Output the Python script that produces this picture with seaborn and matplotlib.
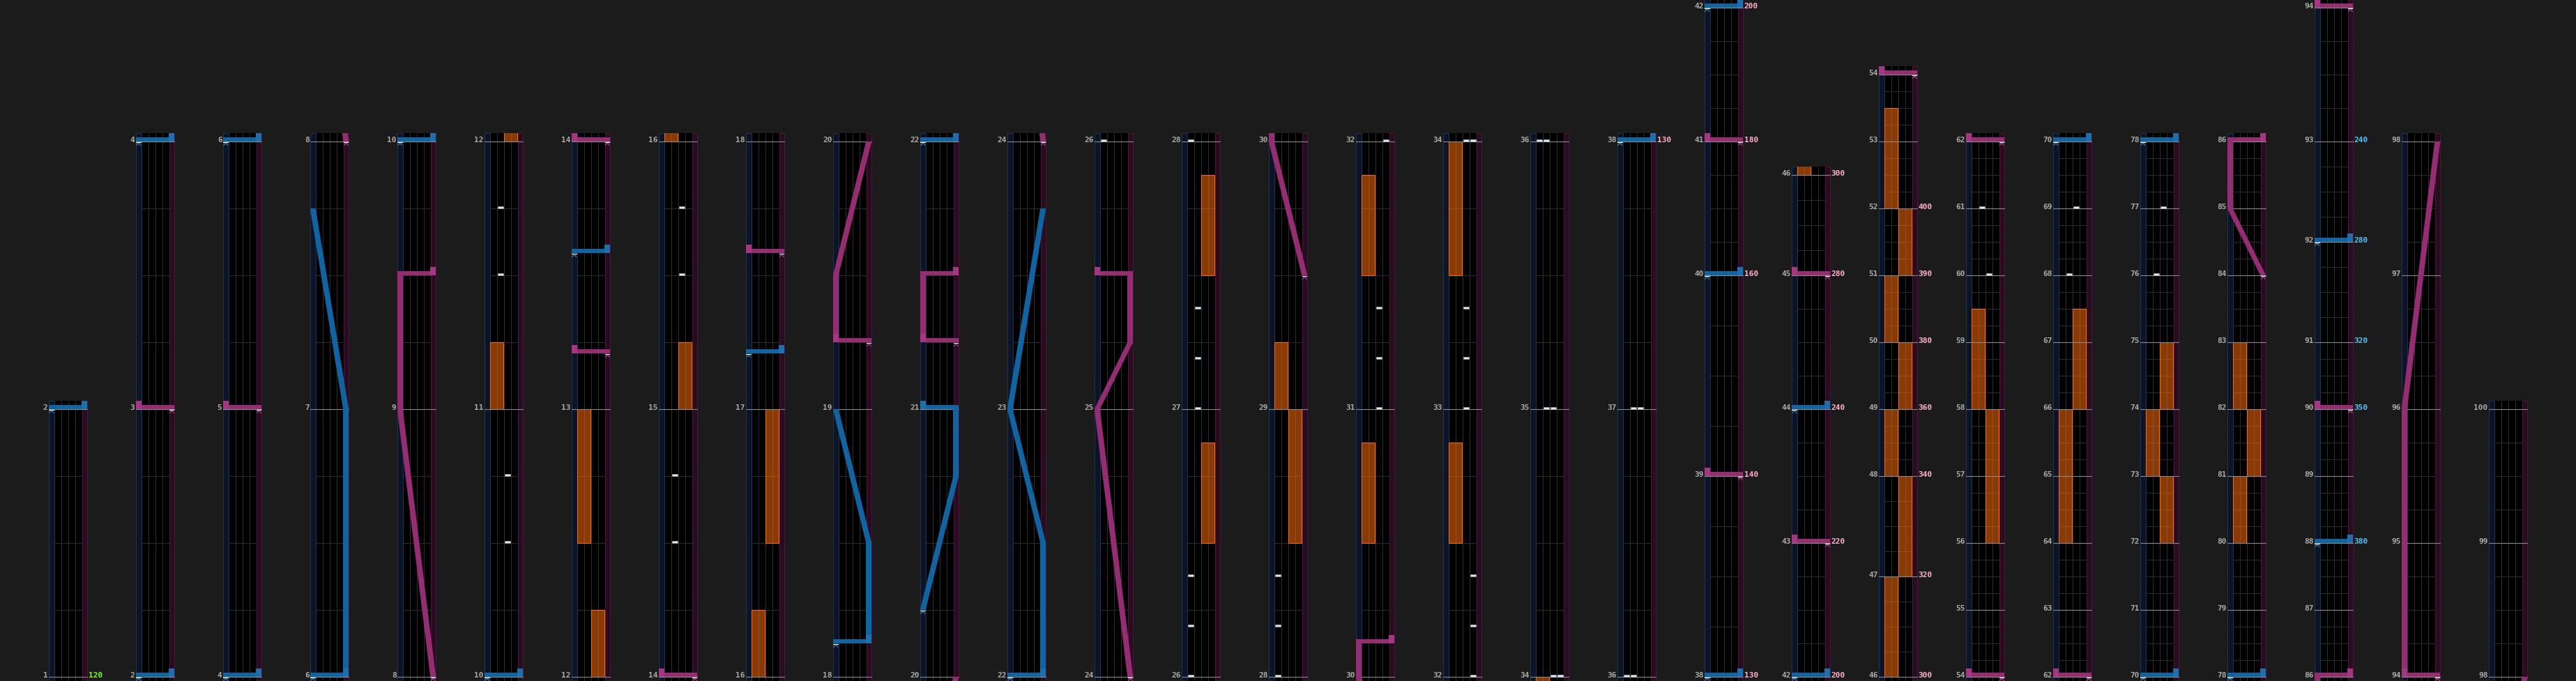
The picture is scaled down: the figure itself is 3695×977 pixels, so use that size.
import numpy as np
import matplotlib
matplotlib.use("Agg")
import matplotlib.pyplot as plt
from matplotlib.patches import Rectangle, Polygon
import seaborn as sns

# ---------------- data ----------------
# time-signature runs: measure where run starts, length in beats
sig_start_measures = [1, 38, 40, 45, 48, 91, 93]
sig_beats = [4, 3, 2, 1.5, 1, 1.5, 2]
last_measure = 100

column_starts = [1, 2, 4, 6, 8, 10, 12, 14, 16, 18, 20, 22, 24, 26, 28, 30,
                 32, 34, 36, 38, 42, 46, 54, 62, 70, 78, 86, 94, 98]

bpm_measures = [1, 38, 39, 40, 41, 42, 43, 44, 45, 46, 47, 48, 49, 50, 51, 52,
                88, 90, 91, 92, 93]
bpm_values = [120, 130, 140, 160, 180, 200, 220, 240, 280, 300, 320, 340, 360,
              380, 390, 400, 380, 350, 320, 280, 240]

# lasers: each section is a list of (time in measures, position 0=left .. 1=right)
blue_lasers = [
    [(2, 0), (2, 1)],
    [(4, 0), (4, 1)],
    [(6, 0), (6, 1), (7, 1), (7.75, 0)],
    [(10, 0), (10, 1)],
    [(13.5833, 0), (13.5833, 1)],
    [(17.2083, 0), (17.2083, 1)],
    [(18.125, 0), (18.125, 1), (18.5, 1), (19, 0)],
    [(20.25, 0), (20.75, 1), (21, 1), (21, 0)],
    [(22, 0), (22, 1), (22.5, 1), (23, 0), (23.75, 1)],
    [(38, 0), (38, 1)],
    [(40, 0), (40, 1)],
    [(42, 0), (42, 1)],
    [(44, 0), (44, 1)],
    [(70, 0), (70, 1)],
    [(78, 0), (78, 1)],
    [(88, 0), (88, 1)],
    [(92, 0), (92, 1)],
]
pink_lasers = [
    [(3, 1), (3, 0)],
    [(5, 1), (5, 0)],
    [(8, 1), (9, 0), (9.5, 0), (9.5, 1)],
    [(13.2083, 1), (13.2083, 0)],
    [(14, 1), (14, 0)],
    [(17.5833, 1), (17.5833, 0)],
    [(19.25, 1), (19.25, 0), (19.5, 0), (20, 1)],
    [(21.25, 1), (21.25, 0), (21.5, 0), (21.5, 1)],
    [(24, 1), (25, 0), (25.25, 1), (25.5, 1), (25.5, 0)],
    [(29.5, 1), (30, 0), (30.125, 0), (30.125, 1)],
    [(39, 1), (39, 0)],
    [(41, 1), (41, 0)],
    [(43, 1), (43, 0)],
    [(45, 1), (45, 0)],
    [(54, 1), (54, 0)],
    [(62, 1), (62, 0)],
    [(84, 1), (85, 0), (86, 0), (86, 1)],
    [(90, 1), (90, 0)],
    [(94, 1), (94, 0), (96, 0), (98, 1)],
]

# FX holds (0 = FX-L, 1 = FX-R)
fx_side = [0, 1, 0, 1, 0, 1, 1, 1, 1, 0, 0, 0, 0, 0,
           0, 1, 0, 1, 0, 1, 0, 1, 0, 0, 1, 0, 1, 0, 1, 0, 1]
fx_start = [11.0, 12.0, 12.5, 15.0, 16.0, 16.5, 26.5, 27.5, 28.5, 29.0, 30.5, 31.5, 32.5, 33.5,
            46, 47, 48, 49, 50, 51, 52, 56, 58, 64, 66, 73, 72, 80, 74, 82, 81]
fx_end = [11.25, 12.25, 13.0, 15.25, 16.25, 17.0, 26.875, 27.875, 29.0, 29.25, 30.875, 31.875, 32.875, 34.0,
          47, 48, 49, 50, 51, 52, 53.5, 58, 59.5, 66, 67.5, 74, 73, 81, 75, 83, 82]

# BT chips (lane 0..3, time)
chip_lanes = [2, 2, 1, 1, 1, 1, 2, 2, 0, 0, 0, 1, 1, 1, 0, 0, 0,
              2, 2, 2, 3, 3, 3, 3, 2, 2, 2, 2, 3, 1, 2, 0, 1, 1, 2,
              2, 1, 1, 2, 1, 2]
chip_times = [10.5, 10.75, 11.5, 11.75, 14.5, 14.75, 15.5, 15.75,
              26.0, 26.1875, 26.375, 27.0, 27.1875, 27.375, 28.0, 28.1875, 28.375,
              31.0, 31.1875, 31.375, 32.0, 32.1875, 32.375, 34.0, 33.0, 33.1875, 33.375, 34.0,
              34.0, 35.0, 35.0, 36.0, 36.0, 37.0, 37.0,
              60.0, 61.0, 68.0, 69.0, 76.0, 77.0]

# ---------------- style / layout ----------------
W, H = 3695, 978
PX_PER_BEAT = 96
BASE_Y = 972
COL_X0, COL_PITCH, COL_W = 70, 125, 55
LASER_W, LANE_W = 7.5, 10.0
LHW = 4.0  # laser half width
PX = 0.72  # 1 pixel in points

BG = "#1b1b1b"
sns.set_theme(style="dark", rc={"figure.facecolor": BG, "axes.facecolor": BG})
plt.rcParams["font.family"] = ["DejaVu Sans Mono", "DejaVu Sans"]

fig = plt.figure(figsize=(W / 100, H / 100), dpi=100)
ax = fig.add_axes([0, 0, 1, 1])
ax.set_xlim(0, W)
ax.set_ylim(H, 0)
ax.axis("off")
sns.despine(ax=ax, left=True, bottom=True)


def beats_of(m):
    b = sig_beats[0]
    for s, v in zip(sig_start_measures, sig_beats):
        if m >= s:
            b = v
    return b


cum = {1: 0.0}
for m in range(1, last_measure + 3):
    cum[m + 1] = cum[m] + beats_of(m) * PX_PER_BEAT


def G(t):
    m = int(np.floor(t))
    m = max(1, min(m, last_measure + 1))
    return cum[m] + (t - m) * beats_of(m) * PX_PER_BEAT


column_ends = column_starts[1:] + [last_measure]

BLUE_BODY, BLUE_BOX, BLUE_MARK = "#0f65a1", "#1c70b0", "#3388c8"
PINK_BODY, PINK_BOX, PINK_MARK = "#962c72", "#a83484", "#b8489a"


def bpm_color(i):
    if i == 0:
        return "#7fff00"
    return "#ffb0c8" if bpm_values[i] > bpm_values[i - 1] else "#4fc3f7"


for ci, cs in enumerate(column_starts):
    ce = column_ends[ci]
    x0 = COL_X0 + ci * COL_PITCH
    g0 = G(cs)

    def yof(t, g0=g0):
        return BASE_Y - (G(t) - g0)

    def X(p, x0=x0):
        return x0 + LASER_W / 2 + p * (COL_W - LASER_W)

    ytop = yof(ce) - 12
    ybot = H
    clip = Rectangle((x0, ytop), COL_W, ybot - ytop, transform=ax.transData)

    ax.add_patch(Rectangle((x0, ytop), COL_W, ybot - ytop, fc="black", ec="none", zorder=1))
    ax.add_patch(Rectangle((x0, ytop), LASER_W, ybot - ytop, fc="#0c1528",
                           ec="#1d3350", lw=PX, zorder=1.2))
    ax.add_patch(Rectangle((x0 + COL_W - LASER_W, ytop), LASER_W, ybot - ytop, fc="#2a0c20",
                           ec="#4a173c", lw=PX, zorder=1.2))
    for k in range(1, 4):
        xx = x0 + LASER_W + k * LANE_W
        ax.plot([xx, xx], [ytop, ybot], color="#2c2c2c", lw=PX, zorder=1.5)

    # beat lines
    for m in range(cs, ce):
        for q in (1, 2, 3):
            yy = yof(m + q / 4)
            ax.plot([x0 + LASER_W, x0 + COL_W - LASER_W], [yy, yy], color="#2c2c2c",
                    lw=PX, zorder=1.6)
    # measure lines + labels
    for m in range(cs, ce + 1):
        yy = yof(m)
        ax.plot([x0, x0 + COL_W], [yy, yy], color="#8a8a8a", lw=PX * 1.1, zorder=3.5)
        ax.text(x0 - 1.5, yy + 0.5, str(m), ha="right", va="baseline", fontsize=8,
                fontweight="bold", color="#a9a9a9", zorder=7)
        if m in bpm_measures:
            bi = bpm_measures.index(m)
            ax.text(x0 + COL_W + 1.5, yy + 0.5, str(bpm_values[bi]), ha="left",
                    va="baseline", fontsize=8, fontweight="bold", color=bpm_color(bi), zorder=7)

    # FX holds
    for side, t0, t1 in zip(fx_side, fx_start, fx_end):
        xl = x0 + LASER_W + side * 2 * LANE_W + 0.5
        r = Rectangle((xl, yof(t1)), 2 * LANE_W - 1, yof(t0) - yof(t1), fc="#fb6d0e",
                      ec="none", alpha=0.55, zorder=3)
        ax.add_patch(r)
        r.set_clip_path(clip)
        r2 = Rectangle((xl, yof(t1)), 2 * LANE_W - 1, yof(t0) - yof(t1), fc="none",
                       ec="#ff6a00", lw=PX, zorder=3.2)
        ax.add_patch(r2)
        r2.set_clip_path(clip)

    # chips
    for ln, t in zip(chip_lanes, chip_times):
        yy = yof(t)
        r = Rectangle((x0 + LASER_W + ln * LANE_W + 1, yy - 3), LANE_W - 2, 3,
                      fc="#e2e9f0", ec="#9aa6b4", lw=0.4, zorder=4)
        ax.add_patch(r)
        r.set_clip_path(clip)

    # lasers
    for sections, body, box, mark in ((blue_lasers, BLUE_BODY, BLUE_BOX, BLUE_MARK),
                                      (pink_lasers, PINK_BODY, PINK_BOX, PINK_MARK)):
        for sec in sections:
            for (t0, p0), (t1, p1) in zip(sec[:-1], sec[1:]):
                if t1 == t0:
                    yy = yof(t0)
                    xa, xb = min(X(p0), X(p1)) - LHW, max(X(p0), X(p1)) + LHW
                    r = Rectangle((xa, yy - 6), xb - xa, 6, fc=body, ec="none", zorder=5)
                    ax.add_patch(r)
                    r.set_clip_path(clip)
                    r = Rectangle((X(p1) - LHW, yy - 12), 2 * LHW, 12, fc=box, ec="none", zorder=5.1)
                    ax.add_patch(r)
                    r.set_clip_path(clip)
                else:
                    ts = [t0] + [float(k) for k in range(int(np.floor(t0)) + 1, int(np.ceil(t1)))] + [t1]
                    ps = [p0 + (p1 - p0) * (t - t0) / (t1 - t0) for t in ts]
                    left = [(X(p) - LHW, yof(t)) for t, p in zip(ts, ps)]
                    right = [(X(p) + LHW, yof(t)) for t, p in zip(ts, ps)]
                    poly = Polygon(left + right[::-1], closed=True, fc=body, ec="none", zorder=5)
                    ax.add_patch(poly)
                    poly.set_clip_path(clip)
            ts0, ps0 = sec[0]
            yy = yof(ts0)
            xc = X(ps0)
            ln1, = ax.plot([xc - 3.5, xc + 3.5], [yy + 0.8, yy + 0.8], color="white", lw=PX * 1.2, zorder=6)
            ln2, = ax.plot([xc - 3, xc, xc + 3], [yy + 5.5, yy + 2.2, yy + 5.5], color=mark,
                           lw=PX * 1.1, zorder=6)
            ln1.set_clip_path(clip)
            ln2.set_clip_path(clip)

fig.savefig("out.png", dpi=100, facecolor=BG)
